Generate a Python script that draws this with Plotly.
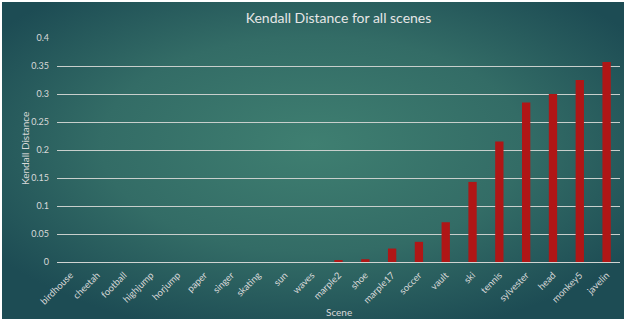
import base64
import plotly.graph_objects as go

scenes = ["birdhouse", "cheetah", "football", "highjump", "horjump", "paper", "singer",
          "skating", "sun", "waves", "marple2", "shoe", "marple17", "soccer", "vault",
          "ski", "tennis", "sylvester", "head", "monkey5", "javelin"]
kendall = [0, 0, 0, 0, 0, 0, 0, 0, 0, 0, 0.003, 0.005, 0.024, 0.036, 0.071,
           0.143, 0.215, 0.285, 0.300, 0.325, 0.357]
y_ticks = [0, 0.05, 0.1, 0.15, 0.2, 0.25, 0.3, 0.35, 0.4]
y_tick_text = ["0", "0.05", "0.1", "0.15", "0.2", "0.25", "0.3", "0.35", "0.4"]

W, H = 628, 322
L, R, T, B = 57, 8, 38, 60
pw, ph = W - L - R, H - T - B

svg = f'''<svg xmlns="http://www.w3.org/2000/svg" width="622" height="317" viewBox="0 0 622 317" preserveAspectRatio="none">
<defs><radialGradient id="g" cx="0.5" cy="0.45" r="0.62" gradientUnits="objectBoundingBox">
<stop offset="0" stop-color="#3F7F71"/><stop offset="0.55" stop-color="#336C66"/><stop offset="1" stop-color="#1D4C54"/>
</radialGradient></defs><rect width="622" height="317" fill="url(#g)"/></svg>'''
src = "data:image/svg+xml;base64," + base64.b64encode(svg.encode()).decode()

def px_x(p):
    return (p - L) / pw

def px_y(p):
    return (H - B - p) / ph

fig = go.Figure(go.Bar(x=scenes, y=kendall, marker=dict(color="#B01616", line=dict(width=0))))

fig.add_layout_image(dict(source=src, xref="paper", yref="paper",
                          x=px_x(2), y=px_y(2), sizex=px_x(624) - px_x(2), sizey=px_y(2) - px_y(319),
                          xanchor="left", yanchor="top", sizing="stretch", layer="below"))

font = "Lato, 'Open Sans', sans-serif"
fig.update_layout(
    width=W, height=H,
    margin=dict(l=L, r=R, t=T, b=B, autoexpand=False),
    paper_bgcolor="white", plot_bgcolor="rgba(0,0,0,0)",
    bargap=0.69,
    showlegend=False,
    title=dict(text="Kendall Distance for all scenes", x=0.5, xref="paper", y=1 - 18 / H, yanchor="middle",
               font=dict(family=font, size=14, color="#E6E6E6")),
    font=dict(family=font, color="#D9D9D9"),
)
fig.add_annotation(text="Scene", xref="paper", yref="paper", x=0.5, y=px_y(312),
                   xanchor="center", yanchor="middle", showarrow=False,
                   font=dict(family=font, size=10, color="#D9D9D9"))
fig.add_annotation(text="Kendall Distance", xref="paper", yref="paper", x=px_x(25), y=px_y(149),
                   xanchor="center", yanchor="middle", showarrow=False, textangle=-90,
                   font=dict(family=font, size=10, color="#D9D9D9"))
fig.update_xaxes(tickangle=-45, tickfont=dict(size=9.5, color="#D9D9D9"), showgrid=False, automargin=False,
                 showline=True, linecolor="#D0D4D2", linewidth=1, ticks="", ticklabelstandoff=3)
fig.update_yaxes(range=[0, 0.4], tickvals=y_ticks, ticktext=y_tick_text, automargin=False,
                 tickfont=dict(size=9, color="#D9D9D9"), showgrid=True, gridcolor="#C8CFCC",
                 gridwidth=1, zeroline=False, ticks="", showline=False, ticklabelstandoff=7)

fig.write_html("out.html")
